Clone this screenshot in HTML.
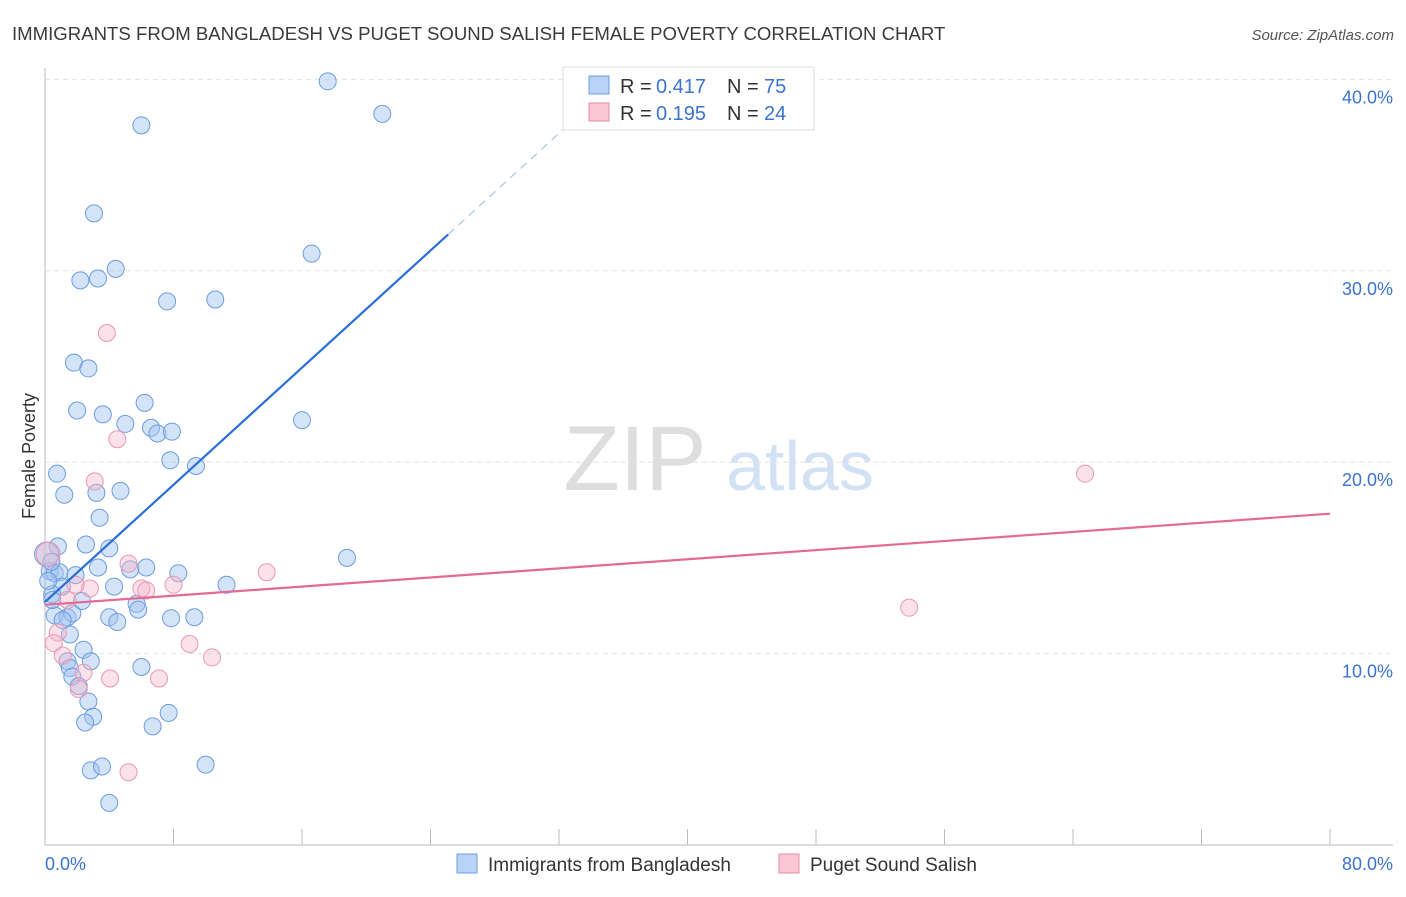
<!DOCTYPE html>
<html><head><meta charset="utf-8"><style>
body{margin:0;background:#fff;font-family:"Liberation Sans",sans-serif;}
svg text{font-family:"Liberation Sans",sans-serif;}
</style></head><body>
<svg width="1406" height="892" viewBox="0 0 1406 892" xmlns="http://www.w3.org/2000/svg">
<text x="12" y="40" font-size="18.6" fill="#3a3a3a">IMMIGRANTS FROM BANGLADESH VS PUGET SOUND SALISH FEMALE POVERTY CORRELATION CHART</text>
<text x="1394" y="40" font-size="15" fill="#555" font-style="italic" text-anchor="end">Source: ZipAtlas.com</text>
<g>
<text x="635" y="490" font-size="92" fill="#dedede" font-family="Liberation Serif" text-anchor="middle">ZIP</text>
<text x="800" y="490" font-size="70" fill="#d3e1f4" text-anchor="middle">atlas</text>
</g>
<g id="grid"></g>
<g id="axes"></g>
<g id="pts"></g>
<g id="lines"></g>
<text x="35" y="456" font-size="18" fill="#333" text-anchor="middle" transform="rotate(-90 35 456)">Female Poverty</text>
<text x="45" y="870" font-size="18" fill="#3b73d1">0.0%</text>
<text x="1393" y="870" font-size="18" fill="#3b73d1" text-anchor="end">80.0%</text>
<g>
<rect x="563" y="67" width="251" height="63" fill="#fff" stroke="#ddd"/>
<rect x="589" y="76" width="20" height="18" fill="#b8d3f5" stroke="#6d9fe0"/>
<rect x="589" y="103" width="20" height="18" fill="#f8c6d4" stroke="#e98aa8"/>
<text x="620" y="93" font-size="20" fill="#333">R =</text>
<text x="656" y="93" font-size="20" fill="#3b73d1">0.417</text>
<text x="727" y="93" font-size="20" fill="#333">N =</text>
<text x="764" y="93" font-size="20" fill="#3b73d1">75</text>
<text x="620" y="120" font-size="20" fill="#333">R =</text>
<text x="656" y="120" font-size="20" fill="#3b73d1">0.195</text>
<text x="727" y="120" font-size="20" fill="#333">N =</text>
<text x="764" y="120" font-size="20" fill="#3b73d1">24</text>
</g>
<g>
<rect x="457" y="854" width="20" height="19" fill="#b8d3f5" stroke="#6d9fe0"/>
<text x="488" y="871" font-size="19" fill="#333">Immigrants from Bangladesh</text>
<rect x="779" y="854" width="20" height="19" fill="#f8c6d4" stroke="#e98aa8"/>
<text x="810" y="871" font-size="19" fill="#333">Puget Sound Salish</text>
</g>
</svg>
<script>
const blueX=[17.6,21.0,6.0,3.05,16.6,4.4,2.2,3.3,7.6,10.6,1.8,2.7,2.0,3.6,6.2,5.0,6.6,7.0,7.9,16.0,7.8,9.4,0.75,1.2,3.2,4.7,3.4,0.8,2.55,4.0,0.1,18.8,3.3,6.3,5.3,0.3,0.6,0.9,1.9,8.3,4.3,11.3,1.05,0.45,2.3,5.7,5.8,0.6,1.4,1.7,4.0,4.5,7.85,9.3,1.55,2.4,2.85,1.4,1.55,6.0,1.7,2.1,2.7,3.0,2.5,7.7,6.7,2.85,3.55,10.0,4.0,0.4,0.2,0.45,1.1];
const blueY=[39.9,38.2,37.6,33.0,30.9,30.1,29.5,29.6,28.4,28.5,25.2,24.9,22.7,22.5,23.1,22.0,21.8,21.5,21.6,22.2,20.1,19.8,19.4,18.3,18.4,18.5,17.1,15.6,15.7,15.5,15.2,15.0,14.5,14.5,14.4,14.3,14.2,14.25,14.1,14.2,13.5,13.6,13.5,13.1,12.75,12.6,12.3,12.0,11.9,12.1,11.9,11.65,11.85,11.9,11.0,10.2,9.6,9.6,9.25,9.3,8.8,8.3,7.5,6.7,6.4,6.9,6.2,3.9,4.1,4.2,2.2,14.8,13.8,12.8,11.75];
const pinkX=[3.85,4.5,3.1,64.75,5.2,13.8,6.0,6.3,8.0,2.8,1.9,53.8,1.4,0.8,0.55,9.0,10.4,1.1,2.4,4.05,7.1,2.1,5.2,0.2];
const pinkY=[26.75,21.2,19.0,19.4,14.7,14.25,13.4,13.3,13.6,13.4,13.6,12.4,12.8,11.1,10.55,10.5,9.8,9.9,9.0,8.7,8.7,8.15,3.8,15.2];
const yTicks=[10,20,30,40];
const yTickLabels=["10.0%","20.0%","30.0%","40.0%"];
const xTicks=[0,8,16,24,32,40,48,56,64,72,80];
const blueFit=[12.7,0.765];  // intercept, slope
const pinkFit=[12.55,0.0595];
const blueSolidEnd=25.1, blueDashEnd=33.6;

const NS="http://www.w3.org/2000/svg";
const sx=v=>45+v*(1285/80);
const sy=v=>845-v*19.14;
function mk(tag,attrs,parent){const e=document.createElementNS(NS,tag);for(const k in attrs)e.setAttribute(k,attrs[k]);parent.appendChild(e);return e;}
const grid=document.getElementById('grid'),axes=document.getElementById('axes'),pts=document.getElementById('pts'),lines=document.getElementById('lines');
yTicks.forEach((t,i)=>{
  const l=mk('line',{x1:45,x2:1393,y1:sy(t),y2:sy(t),stroke:'#e2e2e2','stroke-dasharray':'5,4'},grid);
  
  
  const tx=mk('text',{x:1393,y:sy(t)+24,'font-size':18,fill:'#3b73d1','text-anchor':'end'},grid);
  tx.textContent=yTickLabels[i];
  
  
});
const ya=mk('line',{x1:45,x2:45,y1:68,y2:845,stroke:'#bbb'},axes);


const xa=mk('line',{x1:45,x2:1393,y1:845,y2:845,stroke:'#bbb'},axes);


xTicks.forEach(t=>{
  const k=mk('line',{x1:sx(t),x2:sx(t),y1:829,y2:845,stroke:'#bbb'},axes);
  
  
});
blueX.forEach((x,i)=>{
  const c=mk('circle',{cx:sx(x),cy:sy(blueY[i]),r:(x<0.3&&blueY[i]>15)?12:8.5,fill:'rgba(160,196,240,0.45)',stroke:'#6d9be0','stroke-width':1},pts);
  
  
});
pinkX.forEach((x,i)=>{
  const c=mk('circle',{cx:sx(x),cy:sy(pinkY[i]),r:(x<0.3)?12:8.5,fill:'rgba(246,180,200,0.4)',stroke:'#eb97b2','stroke-width':1},pts);
  
  
});
const f=(fit,x)=>fit[0]+fit[1]*x;
const b1=mk('line',{x1:sx(0),y1:sy(f(blueFit,0)),x2:sx(blueSolidEnd),y2:sy(f(blueFit,blueSolidEnd)),stroke:'#2a6fd6','stroke-width':2.2},lines);


const b2=mk('line',{x1:sx(blueSolidEnd),y1:sy(f(blueFit,blueSolidEnd)),x2:sx(blueDashEnd),y2:sy(f(blueFit,blueDashEnd)),stroke:'#aac4ea','stroke-width':1.2,'stroke-dasharray':'8,6'},lines);


const p1=mk('line',{x1:sx(0),y1:sy(f(pinkFit,0)),x2:sx(80),y2:sy(f(pinkFit,80)),stroke:'#e46a96','stroke-width':2.2},lines);


</script>
</body></html>
